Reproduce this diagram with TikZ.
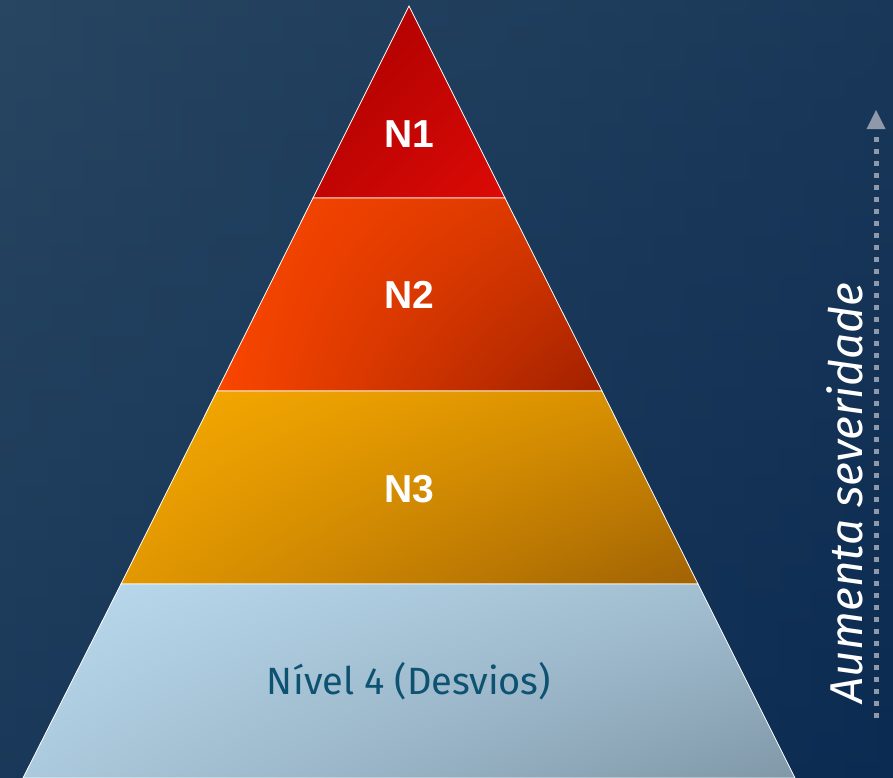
\documentclass[tikz,border=0pt]{standalone}
\usepackage{fontspec}
\setmainfont{Liberation Sans}
\newfontfamily\labfont{Fira Sans}
\usetikzlibrary{arrows.meta,shadings}
\definecolor{bgtop}{HTML}{284661}
\definecolor{bgbot}{HTML}{0C2B52}
\definecolor{nonetl}{HTML}{A60000}
\definecolor{nonebr}{HTML}{DC0A06}
\definecolor{ntwotl}{HTML}{FA4600}
\definecolor{ntwobr}{HTML}{A02000}
\definecolor{nthreetl}{HTML}{F8AA00}
\definecolor{nthreebr}{HTML}{A06204}
\definecolor{nfourtl}{HTML}{BADAEE}
\definecolor{nfourbr}{HTML}{8098A8}
\definecolor{labcol}{HTML}{0E5272}
\definecolor{arrcol}{HTML}{9099AA}
\tikzset{
  layer/.style={draw=white, line width=0.8pt},
  bold label/.style={text=white, font=\fontsize{39}{39}\selectfont\bfseries},
}
\begin{document}
\begin{tikzpicture}[x=1pt,y=-1pt]
\useasboundingbox (0,0) rectangle (893,777);
\shade[top color=bgtop, bottom color=bgbot] (0,0) rectangle (893,777);
\shade[left color=bgtop, right color=bgbot, opacity=0.5] (0,0) rectangle (893,777);
% pyramid layers
\coordinate (apex) at (409,6);
\shadedraw[layer, upper left=nonetl, lower right=nonebr, upper right=nonetl!50!nonebr, lower left=nonetl!50!nonebr]
  (apex) -- (505,198) -- (313,198) -- cycle;
\shadedraw[layer, upper left=ntwotl, lower right=ntwobr, upper right=ntwotl!60!ntwobr, lower left=ntwotl]
  (313,198) -- (505,198) -- (602,391) -- (217,391) -- cycle;
\shadedraw[layer, upper left=nthreetl, lower right=nthreebr, upper right=nthreetl!60!nthreebr, lower left=nthreetl!75!nthreebr]
  (217,391) -- (602,391) -- (698,584) -- (121,584) -- cycle;
\shadedraw[layer, upper left=nfourtl, lower right=nfourbr, upper right=nfourtl!55!nfourbr, lower left=nfourtl!75!nfourbr]
  (121,584) -- (698,584) -- (795,778) -- (23,778) -- cycle;
\node[bold label] (n1) at (409,134) {N1};
\node[bold label] (n2) at (409,295) {N2};
\node[bold label] (n3) at (409,489) {N3};
\node[text=labcol, font=\labfont\fontsize{38}{38}\selectfont] (n4) at (409,681) {Nível 4 (Desvios)};
% severity arrow
\coordinate (arrbot) at (876,718);
\coordinate (arrtop) at (876,110);
\draw[arrcol, line width=5pt, dash pattern=on 5pt off 7pt] (arrbot) -- (876,132);
\fill[arrcol] (arrtop) -- (885.5,129) -- (866.5,129) -- cycle;
\node[text=white, rotate=90, font=\labfont\itshape\fontsize{46}{46}\selectfont] (sev) at (845,493) {Aumenta severidade};
\end{tikzpicture}
\end{document}
